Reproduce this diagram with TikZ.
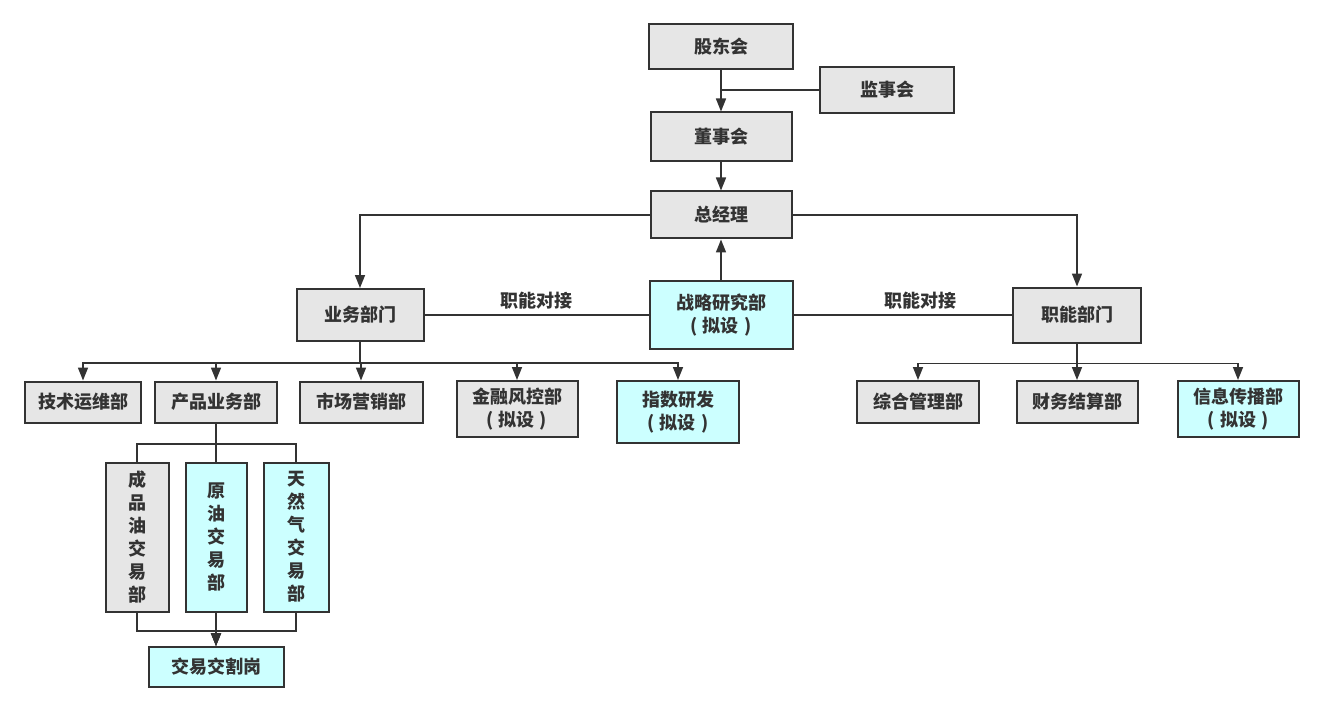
\documentclass[tikz,border=0pt]{standalone}
\usepackage{fontspec}
\newfontfamily\cjk{Noto Sans CJK SC}
\usetikzlibrary{arrows.meta}
\definecolor{boxgray}{HTML}{E6E6E6}
\definecolor{boxcyan}{HTML}{CCFFFF}
\definecolor{edgedark}{HTML}{333333}
\definecolor{textmain}{HTML}{333333}
\newcommand{\nideng}{(\hspace{5pt}拟设\hspace{5pt})}

\begin{document}
\begin{tikzpicture}[
  x=1pt,y=-1pt,line cap=rect,line join=miter,
  font=\cjk\bfseries\fontsize{18}{23}\selectfont,
  unit/.style={draw=edgedark,line width=2pt,inner sep=0pt,align=center,text=textmain},
  grayunit/.style={unit,fill=boxgray},
  cyanunit/.style={unit,fill=boxcyan},
  tallunit/.style={font=\cjk\bfseries\fontsize{18}{23}\selectfont},
  link/.style={edgedark,line width=1.6pt},
  feed/.style={link,-{Triangle[length=13pt,width=10pt]}},
  tag/.style={text=textmain,font=\cjk\bfseries\fontsize{18}{22}\selectfont}
]
  \useasboundingbox[fill=white] (0,0) rectangle (1324,711);

  % Governance chain at the top.
  \node[grayunit,minimum width=144,minimum height=45] (gdh) at (721,47) {股东会};
  \node[grayunit,minimum width=134,minimum height=46] (jsh) at (887,90) {监事会};
  \node[grayunit,minimum width=141,minimum height=49] (dsh) at (721,137) {董事会};
  \node[grayunit,minimum width=141,minimum height=47] (zjl) at (721,215) {总经理};

  % Second level.
  \node[cyanunit,minimum width=143,minimum height=68] (zlyj) at (721,315) {战略研究部\\\nideng};
  \node[grayunit,minimum width=127,minimum height=52] (ywbm) at (360,315) {业务部门};
  \node[grayunit,minimum width=128,minimum height=55] (znbm) at (1077,315) {职能部门};

  % Departments under the business side.
  \node[grayunit,minimum width=116,minimum height=41] (jsyw) at (83,402) {技术运维部};
  \node[grayunit,minimum width=122,minimum height=41] (cpyw) at (216,402) {产品业务部};
  \node[grayunit,minimum width=123,minimum height=41] (scyx) at (361,402) {市场营销部};
  \node[grayunit,minimum width=121,minimum height=56] (jrfk) at (517,409) {金融风控部\\\nideng};
  \node[cyanunit,minimum width=122,minimum height=62] (zsyf) at (678,412) {指数研发\\\nideng};

  % Departments under the functional side.
  \node[grayunit,minimum width=122,minimum height=42] (zhgl) at (918,402) {综合管理部};
  \node[grayunit,minimum width=121,minimum height=42] (cwjs) at (1077,402) {财务结算部};
  \node[cyanunit,minimum width=121,minimum height=56] (xxcb) at (1238,409) {信息传播部\\\nideng};

  % Trading desks and the delivery post.
  \node[grayunit,tallunit,minimum width=63,minimum height=149] (cpyjy) at (137,537) {成\\品\\油\\交\\易\\部};
  \node[cyanunit,tallunit,minimum width=61,minimum height=149] (yyjy) at (216,537) {原\\油\\交\\易\\部};
  \node[cyanunit,tallunit,minimum width=65,minimum height=149] (trqjy) at (296,537) {天\\然\\气\\交\\易\\部};
  \node[cyanunit,minimum width=135,minimum height=40] (jyjg) at (216,667) {交易交割岗};

  % Connectors of the governance chain.
  \draw[feed] (gdh) -- (dsh);
  \draw[link] (jsh.west) -- (jsh.west -| gdh.south);
  \draw[feed] (dsh) -- (zjl);
  \draw[feed] (zlyj) -- (zjl);
  \draw[feed] (zjl.west) -| (ywbm.north);
  \draw[feed] (zjl.east) -| (znbm.north);

  % Coordination lines with the strategy unit.
  \draw[link] (ywbm.east) -- node[tag,above=2pt,pos=0.5] {职能对接} (zlyj.west);
  \draw[link] (zlyj.east) -- node[tag,above=2pt,pos=0.58] {职能对接} (znbm.west);

  % Business side bus.
  \foreach \dept in {jsyw,cpyw,scyx,jrfk,zsyf} {
    \draw[feed] (ywbm.south) -- ++(0,21) -| (\dept.north);
  }

  % Functional side bus.
  \foreach \dept in {zhgl,cwjs,xxcb} {
    \draw[feed] (znbm.south) -- ++(0,20) -| (\dept.north);
  }

  % Trading desks above and below.
  \foreach \desk in {cpyjy,yyjy,trqjy} {
    \draw[link] (cpyw.south) -- ++(0,20.5) -| (\desk.north);
    \draw[feed] (\desk.south) -- ++(0,18.5) -| (jyjg.north);
  }
\end{tikzpicture}
\end{document}
